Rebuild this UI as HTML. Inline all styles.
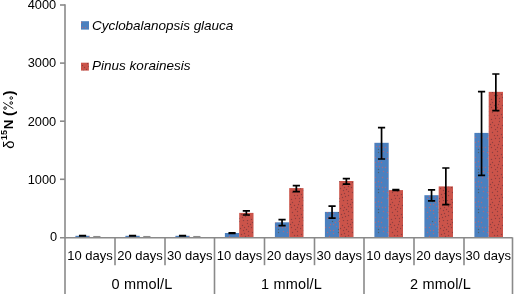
<!DOCTYPE html>
<html><head><meta charset="utf-8"><style>
html,body{margin:0;padding:0;background:#fff;width:514px;height:294px;overflow:hidden}
svg{display:block;will-change:transform}
text{font-family:"Liberation Sans",sans-serif;fill:#000}
</style></head><body>
<svg width="514" height="294" viewBox="0 0 514 294">
<defs>
<pattern id="pb" width="20" height="20" patternUnits="userSpaceOnUse"><rect width="20" height="20" fill="#4b80bf"/><circle cx="10.5" cy="4.5" r="0.7" fill="#a86a80"/><circle cx="12.5" cy="1.5" r="0.7" fill="#4d6068"/><circle cx="2.5" cy="17.5" r="0.7" fill="#a86a80"/><circle cx="3.5" cy="11.5" r="0.7" fill="#a86a80"/><circle cx="18.5" cy="1.5" r="0.7" fill="#a86a80"/><circle cx="16.5" cy="6.5" r="0.7" fill="#a86a80"/><circle cx="1.5" cy="2.5" r="0.7" fill="#a86a80"/><circle cx="13.5" cy="13.5" r="0.7" fill="#a86a80"/><circle cx="2.5" cy="7.5" r="0.7" fill="#a86a80"/><circle cx="7.5" cy="18.5" r="0.7" fill="#a86a80"/><circle cx="18.5" cy="12.5" r="0.7" fill="#4d6068"/><circle cx="13.5" cy="4.5" r="0.7" fill="#a86a80"/><circle cx="18.5" cy="9.5" r="0.7" fill="#4d6068"/><circle cx="19.5" cy="6.5" r="0.7" fill="#a86a80"/><circle cx="15.5" cy="17.5" r="0.7" fill="#a86a80"/><circle cx="13.5" cy="10.5" r="0.7" fill="#a86a80"/><circle cx="9.5" cy="7.5" r="0.7" fill="#a86a80"/><circle cx="5.5" cy="7.5" r="0.7" fill="#a86a80"/><circle cx="9.5" cy="16.5" r="0.7" fill="#a86a80"/><circle cx="10.5" cy="10.5" r="0.7" fill="#a86a80"/><circle cx="15.5" cy="2.5" r="0.7" fill="#a86a80"/><circle cx="7.5" cy="12.5" r="0.7" fill="#a86a80"/></pattern>
<pattern id="pr" width="20" height="20" patternUnits="userSpaceOnUse"><rect width="20" height="20" fill="#cb544a"/><circle cx="2.5" cy="5.5" r="0.7" fill="#8e3e3e"/><circle cx="4.5" cy="7.5" r="0.7" fill="#8e3e3e"/><circle cx="7.5" cy="0.5" r="0.7" fill="#8e3e3e"/><circle cx="15.5" cy="18.5" r="0.7" fill="#8e3e3e"/><circle cx="4.5" cy="13.5" r="0.7" fill="#8e3e3e"/><circle cx="17.5" cy="11.5" r="0.7" fill="#8e3e3e"/><circle cx="19.5" cy="18.5" r="0.7" fill="#8e3e3e"/><circle cx="10.5" cy="4.5" r="0.7" fill="#8e3e3e"/><circle cx="1.5" cy="14.5" r="0.7" fill="#8e3e3e"/><circle cx="12.5" cy="12.5" r="0.7" fill="#8e3e3e"/><circle cx="14.5" cy="5.5" r="0.7" fill="#8e3e3e"/><circle cx="3.5" cy="10.5" r="0.7" fill="#8e3e3e"/><circle cx="19.5" cy="1.5" r="0.7" fill="#8e3e3e"/><circle cx="3.5" cy="0.5" r="0.7" fill="#8e3e3e"/><circle cx="18.5" cy="4.5" r="0.7" fill="#8e3e3e"/><circle cx="11.5" cy="19.5" r="0.7" fill="#8e3e3e"/><circle cx="8.5" cy="11.5" r="0.7" fill="#8e3e3e"/><circle cx="14.5" cy="15.5" r="0.7" fill="#8e3e3e"/><circle cx="15.5" cy="9.5" r="0.7" fill="#8e3e3e"/><circle cx="8.5" cy="15.5" r="0.7" fill="#8e3e3e"/><circle cx="5.5" cy="16.5" r="0.7" fill="#8e3e3e"/><circle cx="11.5" cy="7.5" r="0.7" fill="#8e3e3e"/><circle cx="8.5" cy="6.5" r="0.7" fill="#8e3e3e"/><circle cx="7.5" cy="3.5" r="0.7" fill="#8e3e3e"/><circle cx="12.5" cy="2.5" r="0.7" fill="#8e3e3e"/><circle cx="0.5" cy="8.5" r="0.7" fill="#8e3e3e"/><circle cx="6.5" cy="9.5" r="0.7" fill="#8e3e3e"/><circle cx="17.5" cy="15.5" r="0.7" fill="#8e3e3e"/><circle cx="17.5" cy="7.5" r="0.7" fill="#8e3e3e"/><circle cx="2.5" cy="17.5" r="0.7" fill="#8e3e3e"/></pattern></defs>

<rect x="75.40" y="235.80" width="14.30" height="1.90" fill="url(#pb)"/>
<rect x="89.70" y="237.00" width="14.30" height="0.70" fill="url(#pr)"/>
<rect x="125.40" y="235.80" width="14.30" height="1.90" fill="url(#pb)"/>
<rect x="139.70" y="237.00" width="14.30" height="0.70" fill="url(#pr)"/>
<rect x="175.40" y="235.80" width="14.30" height="1.90" fill="url(#pb)"/>
<rect x="189.70" y="237.00" width="14.30" height="0.70" fill="url(#pr)"/>
<rect x="224.90" y="233.00" width="14.30" height="4.70" fill="url(#pb)"/>
<rect x="239.20" y="212.90" width="14.30" height="24.80" fill="url(#pr)"/>
<rect x="274.90" y="222.30" width="14.30" height="15.40" fill="url(#pb)"/>
<rect x="289.20" y="188.10" width="14.30" height="49.60" fill="url(#pr)"/>
<rect x="324.90" y="211.90" width="14.30" height="25.80" fill="url(#pb)"/>
<rect x="339.20" y="181.00" width="14.30" height="56.70" fill="url(#pr)"/>
<rect x="374.40" y="142.80" width="14.30" height="94.90" fill="url(#pb)"/>
<rect x="388.70" y="190.10" width="14.30" height="47.60" fill="url(#pr)"/>
<rect x="424.40" y="195.20" width="14.30" height="42.50" fill="url(#pb)"/>
<rect x="438.70" y="186.40" width="14.30" height="51.30" fill="url(#pr)"/>
<rect x="474.40" y="132.90" width="14.30" height="104.80" fill="url(#pb)"/>
<rect x="488.70" y="91.85" width="14.30" height="145.85" fill="url(#pr)"/>
<g stroke="#8a8a8a" stroke-width="1.6" fill="none">
<line x1="65" y1="4.2" x2="65" y2="294"/>
<line x1="60" y1="237.70" x2="512.50" y2="237.70"/>
<line x1="60" y1="179.30" x2="65" y2="179.30"/>
<line x1="60" y1="121.20" x2="65" y2="121.20"/>
<line x1="60" y1="63.10" x2="65" y2="63.10"/>
<line x1="60" y1="5.00" x2="65" y2="5.00"/>
<line x1="115.00" y1="237.40" x2="115.00" y2="265.20"/>
<line x1="165.00" y1="237.40" x2="165.00" y2="265.20"/>
<line x1="214.50" y1="237.40" x2="214.50" y2="294.00"/>
<line x1="264.50" y1="237.40" x2="264.50" y2="265.20"/>
<line x1="314.50" y1="237.40" x2="314.50" y2="265.20"/>
<line x1="364.00" y1="237.40" x2="364.00" y2="294.00"/>
<line x1="414.00" y1="237.40" x2="414.00" y2="265.20"/>
<line x1="464.00" y1="237.40" x2="464.00" y2="265.20"/>
<line x1="512.50" y1="237.40" x2="512.50" y2="294"/>
</g>
<g stroke="#000" stroke-width="1.7" fill="none">
<path d="M78.95 235.60H86.15M82.55 235.60V236.00M78.95 236.00H86.15"/>
<path d="M93.25 236.5H100.45" stroke="#8c8c8c" stroke-width="1.1"/>
<path d="M128.95 235.60H136.15M132.55 235.60V236.00M128.95 236.00H136.15"/>
<path d="M143.25 236.5H150.45" stroke="#8c8c8c" stroke-width="1.1"/>
<path d="M178.95 235.60H186.15M182.55 235.60V236.00M178.95 236.00H186.15"/>
<path d="M193.25 236.5H200.45" stroke="#8c8c8c" stroke-width="1.1"/>
<path d="M228.45 232.90H235.65M232.05 232.90V233.30M228.45 233.30H235.65"/>
<path d="M242.75 210.90H249.95M246.35 210.90V215.00M242.75 215.00H249.95"/>
<path d="M278.45 219.70H285.65M282.05 219.70V225.70M278.45 225.70H285.65"/>
<path d="M292.75 185.70H299.95M296.35 185.70V191.70M292.75 191.70H299.95"/>
<path d="M328.45 206.20H335.65M332.05 206.20V218.10M328.45 218.10H335.65"/>
<path d="M342.75 178.70H349.95M346.35 178.70V184.10M342.75 184.10H349.95"/>
<path d="M377.95 127.70H385.15M381.55 127.70V159.00M377.95 159.00H385.15"/>
<path d="M392.25 189.50H399.45M395.85 189.50V190.50M392.25 190.50H399.45"/>
<path d="M427.95 189.80H435.15M431.55 189.80V200.90M427.95 200.90H435.15"/>
<path d="M442.25 168.00H449.45M445.85 168.00V204.60M442.25 204.60H449.45"/>
<path d="M477.95 91.65H485.15M481.55 91.65V175.30M477.95 175.30H485.15"/>
<path d="M492.25 74.00H499.45M495.85 74.00V110.60M492.25 110.60H499.45"/>
</g>
<text x="57.00" y="241.40" font-size="12.8" text-anchor="end">0</text>
<text x="56.20" y="183.60" font-size="12.8" text-anchor="end">1000</text>
<text x="56.20" y="125.50" font-size="12.8" text-anchor="end">2000</text>
<text x="56.20" y="67.40" font-size="12.8" text-anchor="end">3000</text>
<text x="56.20" y="9.30" font-size="12.8" text-anchor="end">4000</text>
<text x="90.00" y="260.4" font-size="13" text-anchor="middle">10 days</text>
<text x="140.00" y="260.4" font-size="13" text-anchor="middle">20 days</text>
<text x="189.75" y="260.4" font-size="13" text-anchor="middle">30 days</text>
<text x="239.50" y="260.4" font-size="13" text-anchor="middle">10 days</text>
<text x="289.50" y="260.4" font-size="13" text-anchor="middle">20 days</text>
<text x="339.25" y="260.4" font-size="13" text-anchor="middle">30 days</text>
<text x="389.00" y="260.4" font-size="13" text-anchor="middle">10 days</text>
<text x="439.00" y="260.4" font-size="13" text-anchor="middle">20 days</text>
<text x="488.25" y="260.4" font-size="13" text-anchor="middle">30 days</text>
<text x="141.95" y="288.6" font-size="14.5" text-anchor="middle" textLength="60.9" lengthAdjust="spacing">0 mmol/L</text>
<text x="291.45" y="288.6" font-size="14.5" text-anchor="middle" textLength="60.9" lengthAdjust="spacing">1 mmol/L</text>
<text x="440.45" y="288.6" font-size="14.5" text-anchor="middle" textLength="60.9" lengthAdjust="spacing">2 mmol/L</text>
<rect x="81" y="21.2" width="8" height="8.4" fill="url(#pb)"/>
<rect x="81" y="62.7" width="7.9" height="7.9" fill="url(#pr)"/>
<text x="92" y="29.7" font-size="13.5" font-style="italic" textLength="141.3" lengthAdjust="spacing">Cyclobalanopsis glauca</text>
<text x="92" y="70.4" font-size="13.5" font-style="italic" textLength="98.5" lengthAdjust="spacing">Pinus korainesis</text>
<text transform="translate(14.20,144.60) rotate(-90)" font-size="14.80" font-weight="normal" text-anchor="middle">δ</text>
<text transform="translate(6.80,135.10) rotate(-90)" font-size="9.00" font-weight="bold" text-anchor="middle">15</text>
<text transform="translate(13.20,124.30) rotate(-90)" font-size="13.50" font-weight="bold" text-anchor="middle">N</text>
<text transform="translate(13.80,113.60) rotate(-90)" font-size="15.00" font-weight="bold" text-anchor="middle">(</text>
<text transform="translate(13.80,92.90) rotate(-90)" font-size="15.00" font-weight="bold" text-anchor="middle">)</text>
<g stroke="#000" stroke-width="0.9" fill="none">
<circle cx="11.25" cy="98" r="1.3"/><circle cx="11.25" cy="103" r="1.3"/><circle cx="5.1" cy="108.1" r="1.3"/>
<line x1="3.2" y1="102.4" x2="13.3" y2="108.7"/>
</g>
</svg>
</body></html>
